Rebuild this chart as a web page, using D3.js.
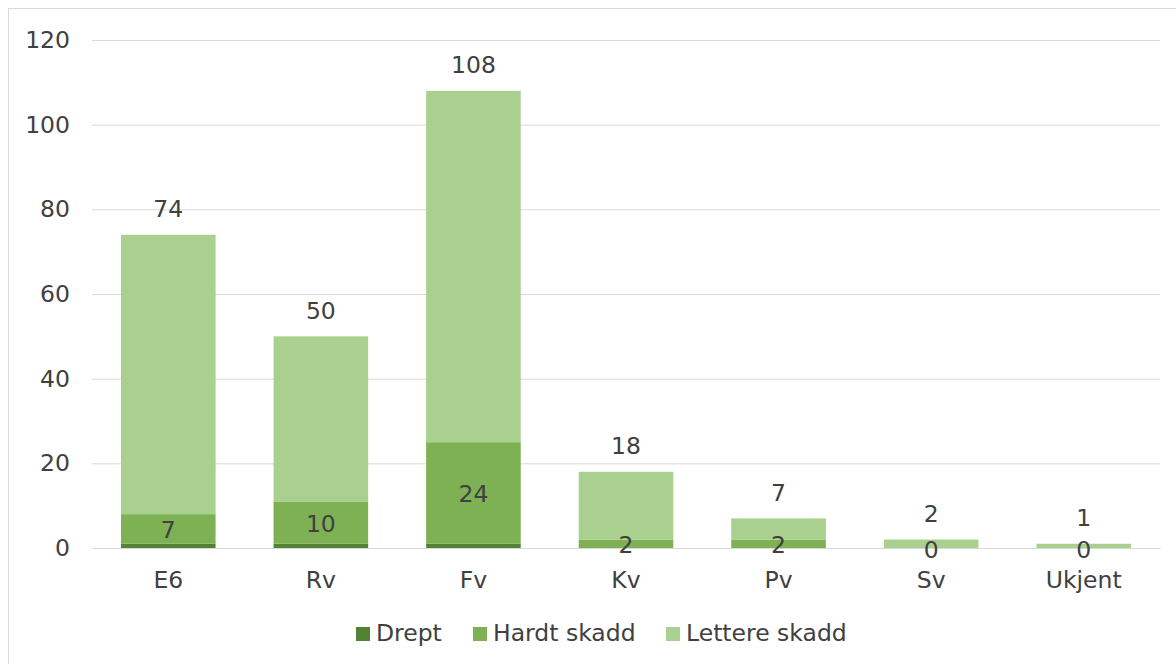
<!DOCTYPE html>
<html>
<head>
<meta charset="utf-8">
<script src="https://cdn.jsdelivr.net/npm/d3@7"></script>
<style>
  body { margin: 0; background: #fff; }
  svg text { font-family: "DejaVu Sans", Verdana, sans-serif; fill: #404040; }
</style>
</head>
<body>
<div id="chart"></div>
<script>
var categories = ["E6", "Rv", "Fv", "Kv", "Pv", "Sv", "Ukjent"];
var drept = [1, 1, 1, 0, 0, 0, 0];
var hardt = [7, 10, 24, 2, 2, 0, 0];
var lettere = [66, 39, 83, 16, 5, 2, 1];
var totals = [74, 50, 108, 18, 7, 2, 1];
var yTicks = [0, 20, 40, 60, 80, 100, 120];
var seriesNames = ["Drept", "Hardt skadd", "Lettere skadd"];
var colors = ["#548235", "#7db154", "#a9d08e"];

var width = 1176, height = 664;
var margin = { left: 92, right: 16, top: 40, bottom: 116 };
var fontSize = "23.5px";

var svg = d3.select("#chart").append("svg")
    .attr("width", width)
    .attr("height", height);

svg.append("rect")
    .attr("x", 8.5).attr("y", 8.5)
    .attr("width", width + 10).attr("height", height + 10)
    .attr("fill", "#fff")
    .attr("stroke", "#d9d9d9");

var xScale = d3.scaleBand()
    .domain(categories)
    .range([margin.left, width - margin.right])
    .paddingInner(0.38)
    .paddingOuter(0.19);

var yScale = d3.scaleLinear()
    .domain([0, 120])
    .range([height - margin.bottom, margin.top]);

// gridlines + y labels
var yAxis = d3.axisLeft(yScale)
    .tickValues(yTicks)
    .tickSize(-(width - margin.right - margin.left))
    .tickPadding(22);

var gy = svg.append("g")
    .attr("transform", "translate(" + margin.left + ",0)")
    .call(yAxis);
gy.select(".domain").remove();
gy.selectAll(".tick line").attr("stroke", "#d9d9d9");
gy.selectAll(".tick text").style("font-size", fontSize).attr("fill", "#404040");

var rows = categories.map(function (c, i) {
    return { cat: c, Drept: drept[i], "Hardt skadd": hardt[i], "Lettere skadd": lettere[i] };
});
var stack = d3.stack().keys(seriesNames)(rows);

svg.append("g").selectAll("g")
    .data(stack)
    .join("g")
    .attr("fill", function (d, i) { return colors[i]; })
    .selectAll("rect")
    .data(function (d) { return d; })
    .join("rect")
    .attr("x", function (d) { return xScale(d.data.cat); })
    .attr("width", xScale.bandwidth())
    .attr("y", function (d) { return yScale(d[1]); })
    .attr("height", function (d) { return yScale(d[0]) - yScale(d[1]); });

// x axis baseline and labels
var xAxis = d3.axisBottom(xScale).tickSize(0).tickPadding(23);
var gx = svg.append("g")
    .attr("transform", "translate(0," + yScale(0) + ")")
    .call(xAxis);
gx.select(".domain").attr("stroke", "#d9d9d9");
gx.selectAll(".tick text").style("font-size", fontSize).attr("fill", "#404040");

// hardt skadd labels
svg.append("g").selectAll("text")
    .data(stack[1])
    .join("text")
    .attr("x", function (d) { return xScale(d.data.cat) + xScale.bandwidth() / 2; })
    .attr("y", function (d) { return yScale((d[0] + d[1]) / 2) + 3; })
    .attr("text-anchor", "middle")
    .attr("dominant-baseline", "middle")
    .style("font-size", fontSize)
    .text(function (d, i) { return hardt[i]; });

// totals
svg.append("g").selectAll("text")
    .data(totals)
    .join("text")
    .attr("x", function (d, i) { return xScale(categories[i]) + xScale.bandwidth() / 2; })
    .attr("y", function (d) { return yScale(d) - 24; })
    .attr("text-anchor", "middle")
    .attr("dominant-baseline", "middle")
    .style("font-size", fontSize)
    .text(function (d) { return d; });

// legend
var legendX = [356, 473, 666];
var legend = svg.append("g").selectAll("g")
    .data(seriesNames)
    .join("g")
    .attr("transform", function (d, i) { return "translate(" + legendX[i] + ",634)"; });
legend.append("rect")
    .attr("x", 0).attr("y", -7)
    .attr("width", 14).attr("height", 14)
    .attr("fill", function (d, i) { return colors[i]; });
legend.append("text")
    .attr("x", 20)
    .attr("y", 0)
    .attr("dominant-baseline", "middle")
    .style("font-size", fontSize)
    .text(function (d) { return d; });
</script>
</body>
</html>
